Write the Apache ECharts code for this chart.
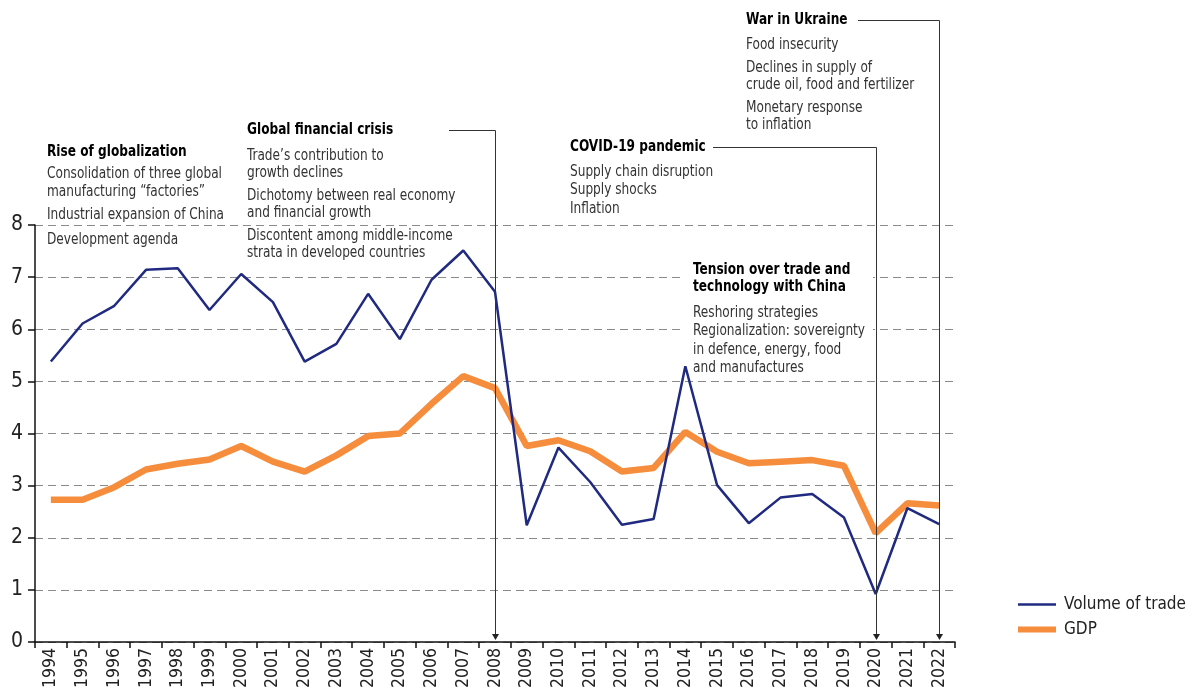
<!DOCTYPE html>
<html>
<head>
<meta charset="utf-8">
<script src="https://cdn.jsdelivr.net/npm/echarts@6/dist/echarts.min.js"></script>
<style>
  html, body { margin: 0; padding: 0; background: #fff; }
  #chart { width: 1192px; height: 692px; }
</style>
</head>
<body>
<div id="chart"></div>
<script>
// Trade volume vs GDP growth, 1994-2022, with event annotations

const years = ["1994","1995","1996","1997","1998","1999","2000","2001","2002","2003",
  "2004","2005","2006","2007","2008","2009","2010","2011","2012","2013",
  "2014","2015","2016","2017","2018","2019","2020","2021","2022"];

const tradeVolume = [5.38, 6.11, 6.45, 7.14, 7.17, 6.37, 7.06, 6.52, 5.38, 5.72,
  6.68, 5.81, 6.95, 7.51, 6.72, 2.24, 3.73, 3.07, 2.25, 2.36,
  5.29, 3.01, 2.28, 2.77, 2.84, 2.39, 0.92, 2.57, 2.26];

const gdp = [2.73, 2.73, 2.97, 3.31, 3.42, 3.50, 3.76, 3.46, 3.27, 3.58,
  3.95, 4.00, 4.57, 5.10, 4.87, 3.76, 3.87, 3.66, 3.27, 3.34,
  4.03, 3.65, 3.43, 3.46, 3.49, 3.38, 2.09, 2.66, 2.62];

const yTicks = [0, 1, 2, 3, 4, 5, 6, 7, 8];

const FONT = "'DejaVu Sans Condensed', 'Roboto', sans-serif";
const BLUE = "#1f2a80";
const ORANGE = "#f68d3c";

// annotation text lines: [x, y, text, bold]
const noteLines = [
  [47, 152, "Rise of globalization", true],
  [47, 174, "Consolidation of three global"],
  [47, 192, "manufacturing \u201cfactories\u201d"],
  [47, 215, "Industrial expansion of China"],
  [47, 240, "Development agenda"],

  [247, 130, "Global financial crisis", true],
  [247, 156, "Trade\u2019s contribution to"],
  [247, 173, "growth declines"],
  [247, 196, "Dichotomy between real economy"],
  [247, 213, "and financial growth"],
  [247, 236, "Discontent among middle-income"],
  [247, 253, "strata in developed countries"],

  [570, 147, "COVID-19 pandemic", true],
  [570, 172, "Supply chain disruption"],
  [570, 190, "Supply shocks"],
  [570, 209, "Inflation"],

  [746, 20, "War in Ukraine", true],
  [746, 45, "Food insecurity"],
  [746, 68, "Declines in supply of"],
  [746, 85, "crude oil, food and fertilizer"],
  [746, 108, "Monetary response"],
  [746, 125, "to inflation"],

  [693, 270, "Tension over trade and", true],
  [693, 287, "technology with China", true],
  [693, 313, "Reshoring strategies"],
  [693, 331, "Regionalization: sovereignty"],
  [693, 350, "in defence, energy, food"],
  [693, 368, "and manufactures"]
];

// event connectors: year of the arrow, top y of the line, start x of the leader
const events = [
  { year: "2008", top: 130, from: 449 },
  { year: "2020", top: 147, from: 713 },
  { year: "2022", top: 20, from: 858 }
];

const chart = echarts.init(document.getElementById("chart"), null, { renderer: "canvas" });

chart.setOption({
  backgroundColor: "#fff",
  animation: false,
  textStyle: { fontFamily: FONT },
  grid: { left: 35, right: 237, top: 225, bottom: 50, containLabel: false },
  legend: {
    orient: "vertical",
    left: 1013,
    top: 591,
    itemGap: 8,
    itemWidth: 38,
    itemHeight: 18,
    data: [
      { name: "Volume of trade", icon: "path://M0,0H38V2.5H0Z" },
      { name: "GDP", icon: "path://M0,0H38V6H0Z" }
    ],
    textStyle: { fontFamily: FONT, fontSize: 17, color: "#222", padding: [0, 0, 0, 3] }
  },
  xAxis: {
    type: "category",
    data: years,
    boundaryGap: true,
    axisLine: { lineStyle: { color: "#111", width: 1.5 } },
    axisTick: { show: true, length: 6, lineStyle: { color: "#111", width: 1.5 } },
    axisLabel: { rotate: 90, fontFamily: FONT, fontSize: 17.5, color: "#222", margin: 6, interval: 0 },
    splitLine: { show: false }
  },
  yAxis: {
    type: "value",
    min: 0,
    max: 8,
    interval: 1,
    axisLine: { show: true, lineStyle: { color: "#111", width: 1.5 } },
    axisTick: { show: true, length: 7, lineStyle: { color: "#111", width: 1.5 } },
    axisLabel: {
      fontFamily: FONT, fontSize: 21, color: "#222", margin: 12,
      formatter: (v) => (yTicks.includes(v) ? String(v) : "")
    },
    splitLine: { show: true, lineStyle: { color: "#8a8a8a", type: [8, 5], width: 1.2 } }
  },
  series: [
    {
      name: "GDP",
      type: "line",
      data: gdp,
      symbol: "none",
      z: 3,
      lineStyle: { color: ORANGE, width: 6.5 },
      itemStyle: { color: ORANGE }
    },
    {
      name: "Volume of trade",
      type: "line",
      data: tradeVolume,
      symbol: "none",
      z: 4,
      lineStyle: { color: BLUE, width: 2.5 },
      itemStyle: { color: BLUE }
    }
  ]
});

function drawAnnotations() {
  const graphics = [];
  const baseY = chart.convertToPixel({ yAxisIndex: 0 }, 0);

  // white box behind the trade tension note (above gridlines, below the series)
  graphics.push({
    type: "rect",
    z: 1,
    shape: { x: 681, y: 258, width: 192, height: 118 },
    style: { fill: "#fff" }
  });

  events.forEach((ev) => {
    const x = Math.round(chart.convertToPixel({ xAxisIndex: 0 }, ev.year)) + 0.5;
    graphics.push({
      type: "polyline",
      z: 60,
      shape: { points: [[ev.from, ev.top + 0.5], [x, ev.top + 0.5], [x, baseY - 7]] },
      style: { stroke: "#333", lineWidth: 1, fill: null }
    });
    graphics.push({
      type: "polygon",
      z: 60,
      shape: { points: [[x - 3.5, baseY - 8], [x + 3.5, baseY - 8], [x, baseY - 2]] },
      style: { fill: "#222" }
    });
  });

  noteLines.forEach(([x, y, text, bold]) => {
    graphics.push({
      type: "text",
      z: 70,
      x: x,
      y: y,
      scaleX: 0.9,
      style: {
        text: text,
        fill: bold ? "#000" : "#333",
        font: (bold ? "bold 15px " : "15px ") + FONT,
        verticalAlign: "middle",
        align: "left"
      }
    });
  });

  chart.setOption({ graphic: graphics });
}

drawAnnotations();
</script>
</body>
</html>
